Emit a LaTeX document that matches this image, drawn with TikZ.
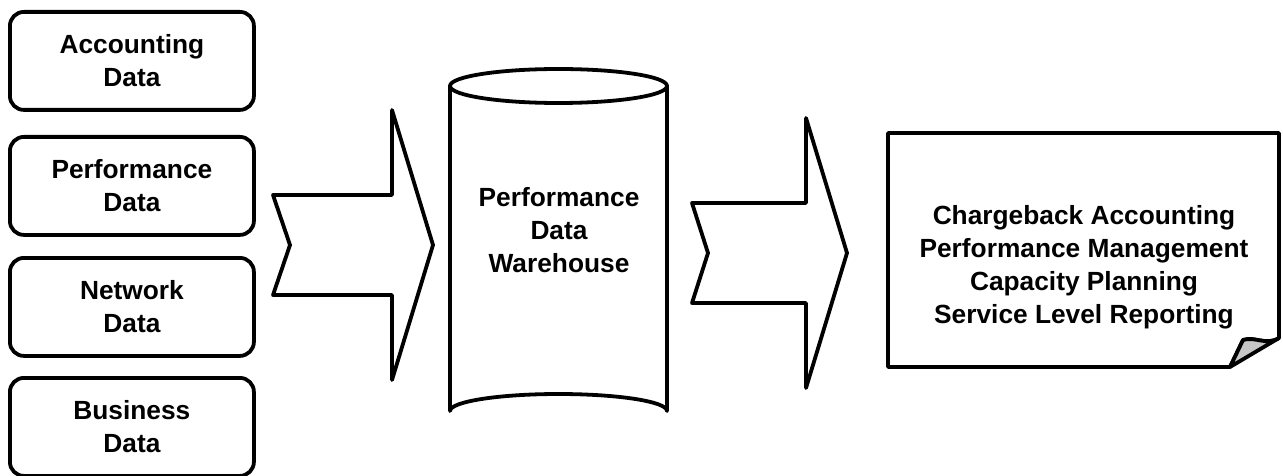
\documentclass[tikz,border=0pt]{standalone}
\usepackage{fontspec}
\setmainfont{Liberation Sans}
\begin{document}
\begin{tikzpicture}[x=1pt,y=-1pt,line width=3.8pt,line join=round,
  txt/.style={font=\bfseries\fontsize{26.3}{33}\selectfont,align=center,inner sep=0pt},
  databox/.style={txt,draw,rounded corners=14pt,minimum width=244pt,minimum height=98pt,anchor=north west},
  blockarrow/.style={draw,fill=white},
  foldfill/.style={draw,fill=black!22}]
\useasboundingbox (0,0) rectangle (1283,476);
% source boxes
\node[databox] (acc) at (8,10) {Accounting\\Data};
\node[databox] (perf) at (8,135) {Performance\\Data};
\node[databox] (net) at (8,256) {Network\\Data};
\node[databox] (bus) at (8,376) {Business\\Data};
% first block arrow
\draw[blockarrow] (273,195) -- (392,195) -- (392,110) -- (433,245) -- (392,380) -- (392,295) -- (273,295) -- (290,245) -- cycle;
% cylinder
\draw (558.5,86) ellipse [x radius=108.5, y radius=17];
\draw (450,86) -- (450,411) arc[start angle=180,end angle=360,x radius=108.5,y radius=17] -- (667,86);
\node[txt] (pdw) at (559,230) {Performance\\Data\\Warehouse};
% second block arrow
\draw[blockarrow] (692,203) -- (806,203) -- (806,118) -- (847,253) -- (806,388) -- (806,303) -- (692,303) -- (708,253) -- cycle;
% report page
\draw[fill=white] (888,133) -- (1279,133) -- (1279,338) .. controls (1266,346) and (1255,336) .. (1243,340) -- (1230,367) -- (888,367) -- cycle;
\draw[foldfill] (1230,367) -- (1243,340) .. controls (1255,336) and (1266,346) .. (1279,338) -- cycle;
\node[txt] (rep) at (1084,267) {Chargeback Accounting\\Performance Management\\Capacity Planning\\Service Level Reporting};
\end{tikzpicture}
\end{document}
